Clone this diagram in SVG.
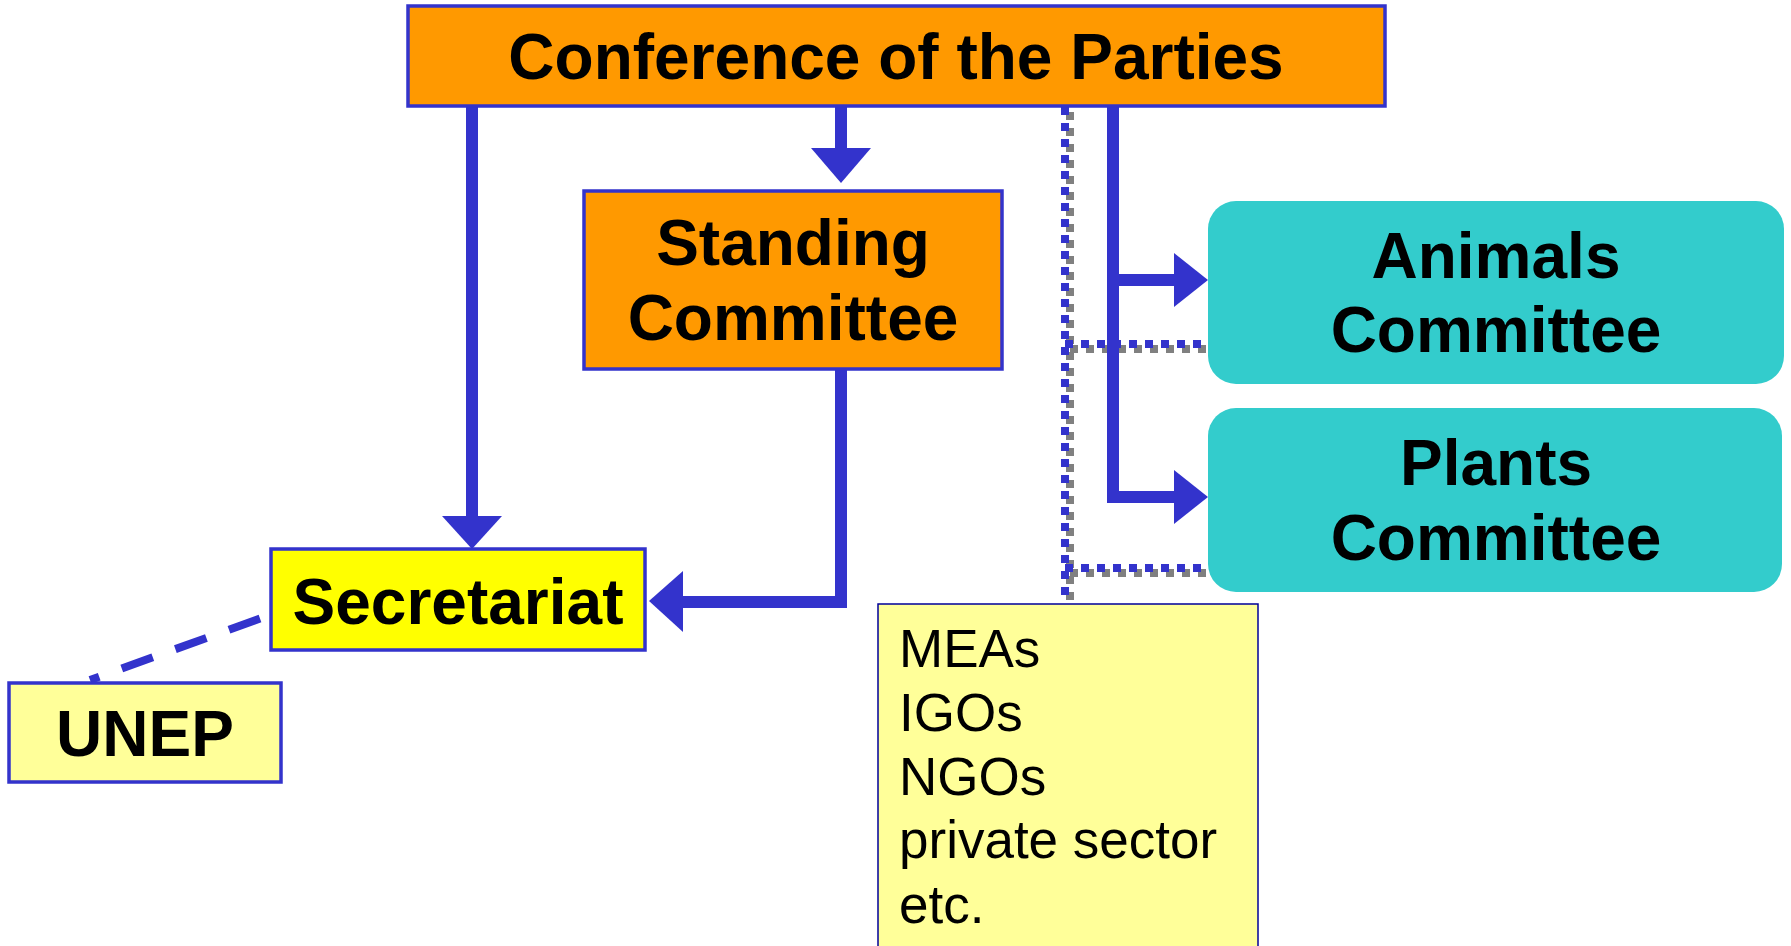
<svg xmlns="http://www.w3.org/2000/svg" width="1791" height="946" viewBox="0 0 1791 946">
<style>
.box{stroke:#3333CC;stroke-width:3.5}
.t{font-family:"Liberation Sans",Arial,sans-serif;font-weight:bold;font-size:64px;fill:#000;text-anchor:middle}
.r{font-family:"Liberation Sans",Arial,sans-serif;font-size:53px;fill:#000}
.ln{stroke:#3333CC;stroke-width:12;fill:none}
.hd{fill:#3333CC}
.dotb{stroke:#3333CC;stroke-width:8;stroke-dasharray:8 8;fill:none}
.dotg{stroke:#808080;stroke-width:8;stroke-dasharray:8 8;fill:none}
</style>
<rect width="1791" height="946" fill="#FFFFFF"/>
<g id="connectors">
  <!-- dotted lines with shadow -->
  <g transform="translate(5,5)">
    <path class="dotg" d="M1065,107 V596"/>
    <path class="dotg" d="M1065,344 H1202"/>
    <path class="dotg" d="M1065,568 H1202"/>
  </g>
  <path class="dotb" d="M1065,107 V603"/>
  <path class="dotb" d="M1065,344 H1208"/>
  <path class="dotb" d="M1065,568 H1208"/>
  <!-- COP to Secretariat -->
  <path class="ln" d="M472,106 V518"/>
  <polygon class="hd" points="442,516 502,516 472,549"/>
  <!-- COP to Standing -->
  <path class="ln" d="M841,106 V150"/>
  <polygon class="hd" points="811,148 871,148 841,183"/>
  <!-- Standing to Secretariat -->
  <path class="ln" d="M841,369 V602 H680"/>
  <polygon class="hd" points="683,571 683,632 649,601"/>
  <!-- COP to Animals / Plants -->
  <path class="ln" d="M1113,106 V497 H1176"/>
  <path class="ln" d="M1113,280 H1176"/>
  <polygon class="hd" points="1174,253 1174,307 1208,280"/>
  <polygon class="hd" points="1174,470 1174,524 1208,497"/>
  <!-- Secretariat to UNEP dashed -->
  <path d="M260,618.5 L90,680" stroke="#3333CC" stroke-width="8" stroke-dasharray="33 24" fill="none"/>
</g>
<g id="cop">
  <rect class="box" x="408" y="6" width="977" height="100" fill="#FF9900"/>
  <text class="t" x="896" y="79">Conference of the Parties</text>
</g>
<g id="standing">
  <rect class="box" x="584" y="191" width="418" height="178" fill="#FF9900"/>
  <text class="t" x="793" y="265">Standing</text>
  <text class="t" x="793" y="340">Committee</text>
</g>
<g id="secretariat">
  <rect class="box" x="271" y="549" width="374" height="101" fill="#FFFF00"/>
  <text class="t" x="458" y="624">Secretariat</text>
</g>
<g id="unep">
  <rect class="box" x="9" y="683" width="272" height="99" fill="#FFFF99"/>
  <text class="t" x="145" y="756">UNEP</text>
</g>
<g id="animals">
  <rect x="1208" y="201" width="576" height="183" rx="28" fill="#33CCCC"/>
  <text class="t" x="1496" y="278">Animals</text>
  <text class="t" x="1496" y="352">Committee</text>
</g>
<g id="plants">
  <rect x="1208" y="408" width="574" height="184" rx="28" fill="#33CCCC"/>
  <text class="t" x="1496" y="485">Plants</text>
  <text class="t" x="1496" y="560">Committee</text>
</g>
<g id="others">
  <rect x="878" y="604" width="380" height="350" fill="#FFFF99" stroke="#000099" stroke-width="1.5"/>
  <text class="r" x="899" y="667">MEAs</text>
  <text class="r" x="899" y="731">IGOs</text>
  <text class="r" x="899" y="795">NGOs</text>
  <text class="r" x="899" y="858">private sector</text>
  <text class="r" x="899" y="923">etc.</text>
</g>
</svg>
